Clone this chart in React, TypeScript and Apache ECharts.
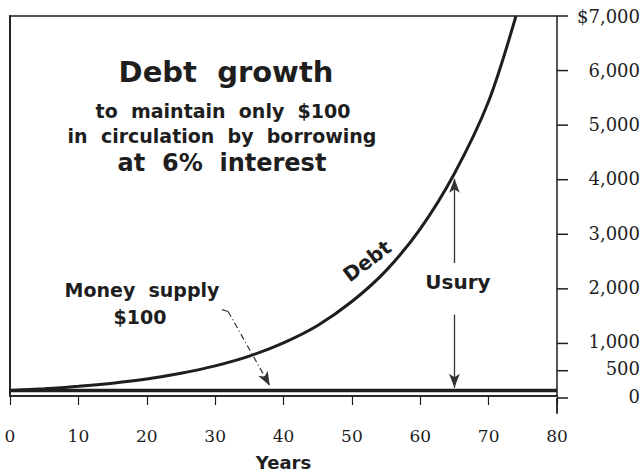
import React, { useEffect, useRef } from "react";
import * as echarts from "echarts";

// Years and debt level (dollars)
const years = [0, 5, 10, 15, 20, 25, 30, 35, 40, 45, 50, 55, 60, 65, 70, 74];
const debt = [100, 133, 178, 236, 313, 418, 555, 735, 980, 1300, 1740, 2310, 3080, 4100, 5430, 7000];

// Money supply held constant at $100
const moneyYears = [0, 80];
const moneySupply = [100, 100];

// Right-axis tick values
const yTickValues = [0, 500, 1000, 2000, 3000, 4000, 5000, 6000, 7000];

// Annotation anchors (data space)
const usuryYear = 65;
const usuryTop = 4000;
const usuryShaftTop = 2450;
const usuryShaftBottom = 1500;
const usuryBottom = 150;

const INK = "#1e1e1e";

export default function App() {
  const ref = useRef<HTMLDivElement>(null);

  useEffect(() => {
    if (!ref.current) return;
    const chart = echarts.init(ref.current, undefined, { renderer: "svg" });
    const sans = "DejaVu Sans";
    const serif = "DejaVu Serif";

    const txt = (text: string, x: number, y: number, size: number, extra: any = {}) => ({
      type: "text",
      x,
      y,
      ...extra,
      style: {
        text,
        x: 0,
        y: 0,
        align: "center",
        verticalAlign: "middle",
        font: `bold ${size}px ${sans}`,
        fill: INK,
      },
    });

    // Tick marks for the right axis: drawn as short line series in a narrow
    // side grid that shares the main grid's vertical extent and value scale.
    const tickSeries = yTickValues.map((v) => ({
      type: "line",
      name: "tick " + v,
      xAxisIndex: 1,
      yAxisIndex: 1,
      data: [
        [0, v],
        [1, v],
      ],
      symbol: "none",
      silent: true,
      clip: false,
      lineStyle: { color: INK, width: 1.5 },
    }));

    chart.setOption({
      animation: false,
      backgroundColor: "#ffffff",
      grid: [
        {
          left: 10,
          right: 86,
          top: 16,
          bottom: 78,
          show: true,
          borderColor: INK,
          borderWidth: 1.5,
        },
        { left: 557, width: 11, top: 16, bottom: 78, show: false },
      ],
      xAxis: [
        {
          type: "value",
          gridIndex: 0,
          min: 0,
          max: 80,
          interval: 10,
          name: "Years",
          nameLocation: "middle",
          nameGap: 57,
          nameTextStyle: { fontFamily: sans, fontWeight: "bold", fontSize: 18, color: INK },
          axisLine: { show: true, lineStyle: { color: INK, width: 1.5 } },
          axisTick: { show: true, length: 9, lineStyle: { color: INK, width: 1.2 } },
          axisLabel: { margin: 31, fontFamily: serif, fontSize: 17, color: INK },
          splitLine: { show: false },
        },
        {
          type: "value",
          gridIndex: 1,
          min: 0,
          max: 1,
          show: false,
        },
      ],
      yAxis: [
        {
          type: "value",
          gridIndex: 0,
          position: "right",
          min: 0,
          max: 7000,
          axisLine: { show: true, lineStyle: { color: INK, width: 1.8 } },
          axisTick: { show: false },
          axisLabel: {
            customValues: yTickValues,
            align: "right",
            margin: 83,
            fontFamily: serif,
            fontSize: 18,
            color: INK,
            formatter: (v: number) =>
              v === 7000 ? "$7,000" : v.toLocaleString("en-US"),
          },
          splitLine: { show: false },
        },
        {
          type: "value",
          gridIndex: 1,
          min: 0,
          max: 7000,
          show: false,
        },
      ],
      series: [
        {
          type: "line",
          name: "Debt",
          data: years.map((y, i) => [y, debt[i]]),
          smooth: 0.3,
          symbol: "none",
          lineStyle: { color: INK, width: 3 },
          markLine: {
            silent: true,
            symbol: ["none", "arrow"],
            symbolSize: [8, 14],
            label: { show: false },
            lineStyle: { color: "#333", width: 1.3, type: "solid" },
            data: [
              [{ coord: [usuryYear, usuryShaftTop] }, { coord: [usuryYear, usuryTop] }],
              [{ coord: [usuryYear, usuryShaftBottom] }, { coord: [usuryYear, usuryBottom] }],
              [
                { coord: [31, 1590], symbol: "none", lineStyle: { type: "solid", width: 1.2 } },
                { coord: [31.9, 1557], symbol: "none" },
              ],
              [
                { coord: [31.9, 1557], lineStyle: { type: [6, 3, 1, 3], width: 1.2 } },
                { coord: [38, 190] },
              ],
            ],
          },
        },
        {
          type: "line",
          name: "Money supply",
          data: moneyYears.map((y, i) => [y, moneySupply[i]]),
          symbol: "none",
          lineStyle: { color: INK, width: 3.5 },
        },
        ...tickSeries,
        {
          type: "line",
          name: "axis extension",
          xAxisIndex: 1,
          yAxisIndex: 1,
          data: [
            [0, 0],
            [0, -290],
          ],
          symbol: "none",
          silent: true,
          clip: false,
          lineStyle: { color: INK, width: 1.8 },
        },
      ],
      graphic: {
        elements: [
          txt("Debt  growth", 226, 72, 29),
          txt("to  maintain  only  $100", 223, 111, 19),
          txt("in  circulation  by  borrowing", 222, 136, 19),
          txt("at  6%  interest", 222, 163, 24),
          txt("Money  supply", 142, 290, 19),
          txt("$100", 140, 317, 19),
          txt("Debt", 367, 261, 20, { rotation: (37 * Math.PI) / 180 }),
          txt("Usury", 458, 282, 20),
        ],
      },
    });

    return () => chart.dispose();
  }, []);

  return (
    <div
      ref={ref}
      style={{ position: "fixed", left: 0, top: 0, width: 643, height: 476, background: "#fff" }}
    />
  );
}
